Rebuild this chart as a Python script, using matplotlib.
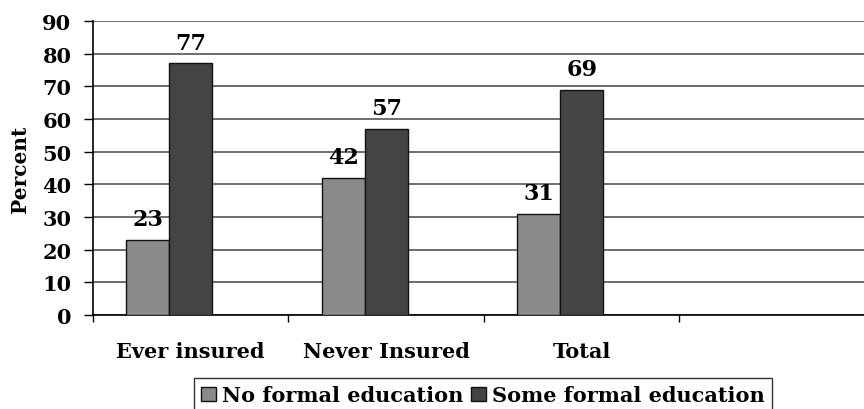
import matplotlib.pyplot as plt
import numpy as np

plt.rcParams['font.family'] = ['DejaVu Serif']
plt.rcParams['font.weight'] = 'bold'

categories = ['Ever insured', 'Never Insured', 'Total']
series_names = ['No formal education', 'Some formal education']
no_formal = [23, 42, 31]
some_formal = [77, 57, 69]
colors = ['#8a8a8a', '#444444']

fig = plt.figure(figsize=(8.64, 4.10), dpi=100)
ax = fig.add_axes([0.1076, 0.2293, 0.905, 0.717])

x = np.arange(len(categories)) + 0.5
w = 0.22
b1 = ax.bar(x - w, no_formal, w, color=colors[0], edgecolor='#111111',
            linewidth=1, label=series_names[0], zorder=3)
b2 = ax.bar(x, some_formal, w, color=colors[1], edgecolor='#111111',
            linewidth=1, label=series_names[1], zorder=3)

# value labels above each bar
for bars, vals in ((b1, no_formal), (b2, some_formal)):
    for r, v in zip(bars, vals):
        ax.annotate(str(v), (r.get_x() + r.get_width() / 2, v),
                    xytext=(0, 7), textcoords='offset points',
                    ha='center', va='bottom', fontsize=16, fontweight='bold')

ax.set_xlim(0, 4)
ax.set_ylim(0, 90)
ax.set_yticks(range(0, 91, 10))
ax.yaxis.grid(True, color='#555555', linewidth=1.2, zorder=0)
ax.set_axisbelow(True)

# category dividers as major ticks, names on minor ticks
ax.set_xticks(range(0, 5))
ax.set_xticklabels([])
ax.set_xticks(x, minor=True)
ax.set_xticklabels(categories, minor=True, fontsize=15, fontweight='bold')
ax.tick_params(axis='x', which='major', direction='out', length=5, width=1)
ax.tick_params(axis='x', which='minor', length=0, pad=19)
ax.tick_params(axis='y', direction='out', length=6.5, width=1,
               labelsize=15, pad=9)

for s in ('top', 'right'):
    ax.spines[s].set_visible(False)
for s in ('left', 'bottom'):
    ax.spines[s].set_linewidth(1.2)

ax.set_ylabel('Percent', fontsize=14.5, fontweight='bold')
ax.yaxis.set_label_coords(-0.081, 0.5)

leg = fig.legend(loc='upper center', bbox_to_anchor=(483 / 864, 1 - 379 / 410),
                 ncol=2, frameon=True, fancybox=False, fontsize=15,
                 handlelength=0.7, handleheight=0.7, handletextpad=0.3,
                 columnspacing=0.4, borderpad=0.35, borderaxespad=0)
leg.get_frame().set_edgecolor('black')
leg.get_frame().set_linewidth(1)

fig.savefig('out.png', dpi=100)
